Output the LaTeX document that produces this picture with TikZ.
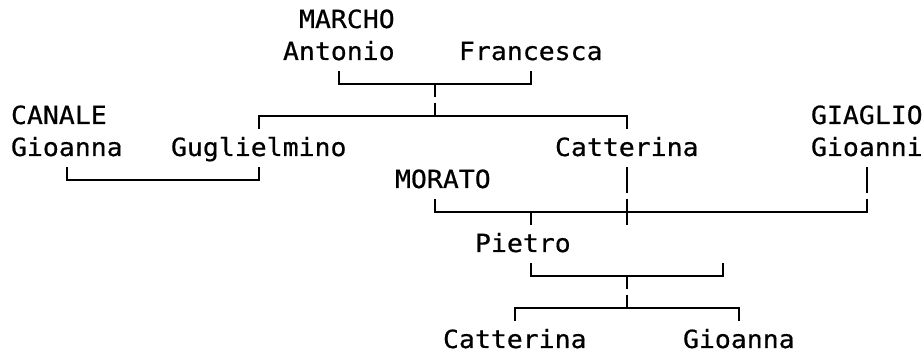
\documentclass[tikz,border=0pt]{standalone}
\usepackage{fontspec}
\newfontfamily\treefont[FakeStretch=1.06,FakeBold=0.6]{DejaVu Sans Mono}
\begin{document}
\begin{tikzpicture}[x=1pt,y=-1pt,
  person/.style={anchor=base west,inner sep=0pt,outer sep=0pt,
    font=\treefont\fontsize{25}{28}\selectfont},
  link/.style={line width=2pt,line join=miter,black}]
\useasboundingbox (0,0) rectangle (924,352);
% names
\node[person] (marcho)     at (299,28)  {MARCHO};
\node[person] (antonio)    at (283,60)  {Antonio};
\node[person] (francesca)  at (459,60)  {Francesca};
\node[person] (canale)     at (11,124)  {CANALE};
\node[person] (giaglio)    at (811,124) {GIAGLIO};
\node[person] (gioannaA)   at (11,156)  {Gioanna};
\node[person] (guglielmino) at (171,156) {Guglielmino};
\node[person] (catterinaA) at (555,156) {Catterina};
\node[person] (gioanni)    at (811,156) {Gioanni};
\node[person] (morato)     at (395,188) {MORATO};
\node[person] (pietro)     at (475,252) {Pietro};
\node[person] (catterinaB) at (443,348) {Catterina};
\node[person] (gioannaB)   at (683,348) {Gioanna};
% junction points
\coordinate (antD)  at (339,71);
\coordinate (fraD)  at (531,71);
\coordinate (m1)    at (435,84);
\coordinate (m1b)   at (435,97);
\coordinate (m2t)   at (435,103);
\coordinate (m2)    at (435,116);
\coordinate (gugU)  at (259,129);
\coordinate (catU)  at (627,129);
\coordinate (gioD)  at (67,167);
\coordinate (gugD)  at (259,167);
\coordinate (catDa) at (627,167);
\coordinate (catDb) at (627,193);
\coordinate (ginDa) at (867,167);
\coordinate (ginDb) at (867,193);
\coordinate (morD)  at (435,199);
\coordinate (ginE)  at (867,199);
\coordinate (catE)  at (627,199);
\coordinate (catF)  at (627,225);
\coordinate (m3)    at (531,212);
\coordinate (pieU)  at (531,225);
\coordinate (pieD)  at (531,263);
\coordinate (wifD)  at (723,263);
\coordinate (m4)    at (627,276);
\coordinate (m4b)   at (627,289);
\coordinate (m5t)   at (627,295);
\coordinate (m5)    at (627,308);
\coordinate (chA)   at (515,321);
\coordinate (chB)   at (739,321);
% marriage Antonio -- Francesca
\draw[link] (antD) |- (m1) -| (fraD);
\draw[link] (m1) -- (m1b);
\draw[link] (m2t) -- (m2);
\draw[link] (gugU) |- (m2) -| (catU);
% marriage Gioanna -- Guglielmino
\draw[link] (gioD) |- (259,180) -- (gugD);
% Catterina and Gioanni, marriages with MORATO
\draw[link] (catDa) -- (catDb);
\draw[link] (ginDa) -- (ginDb);
\draw[link] (morD) |- (m3) -- (ginE |- m3) -- (ginE);
\draw[link] (catE) -- (catF);
\draw[link] (m3) -- (pieU);
% Pietro's family
\draw[link] (pieD) |- (m4) -| (wifD);
\draw[link] (m4) -- (m4b);
\draw[link] (m5t) -- (m5);
\draw[link] (chA) |- (m5) -| (chB);
\end{tikzpicture}
\end{document}
